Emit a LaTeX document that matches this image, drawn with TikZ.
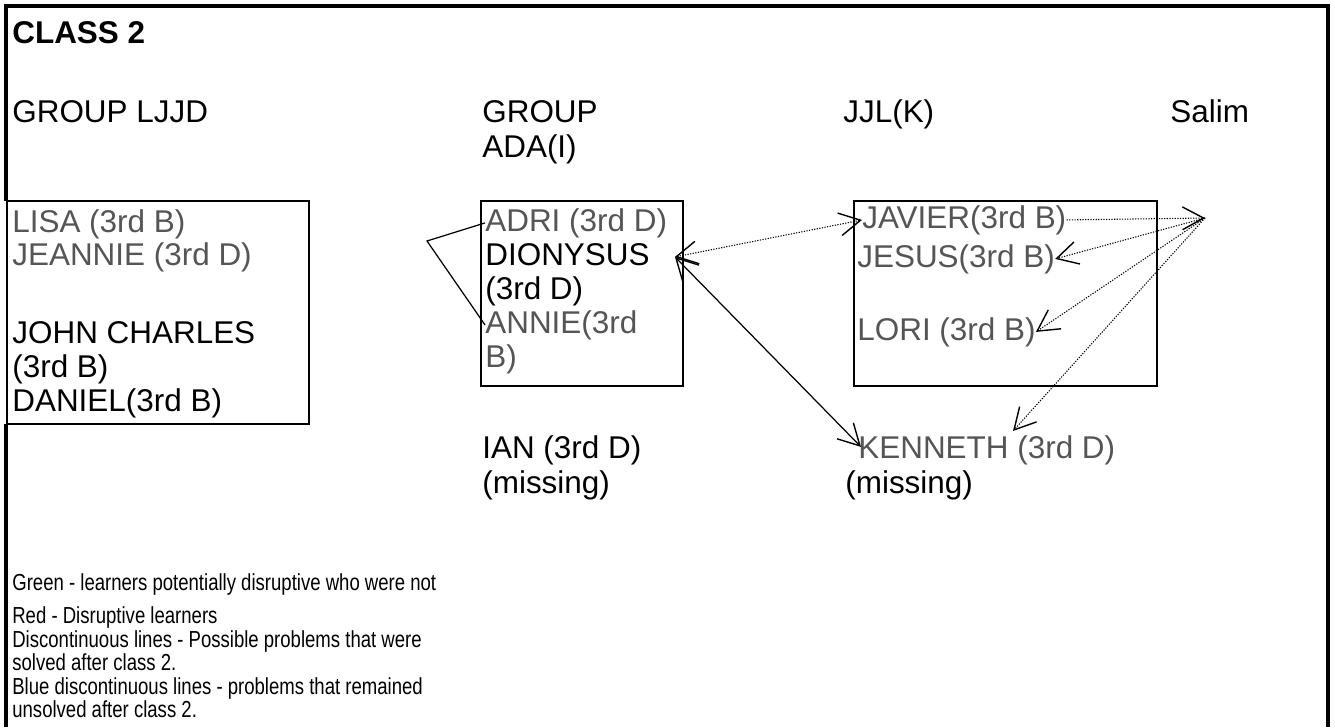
\documentclass[tikz,border=0pt]{standalone}
\usepackage{fontspec}
\setmainfont{Liberation Sans}
\newfontfamily\narrowfont[FakeStretch=0.80]{Liberation Sans}
\usetikzlibrary{arrows.meta,calc}
\definecolor{faded}{RGB}{85,85,85}

\begin{document}
\begin{tikzpicture}[x=0.02cm,y=-0.02cm,
  nm/.style={anchor=base west,inner sep=0pt,font=\fontsize{17.9}{20}\selectfont,text height=13pt,text depth=3.8pt},
  fd/.style={nm,text=faded},
  lg/.style={anchor=base west,inner sep=0pt,font=\narrowfont\fontsize{13.2}{15}\selectfont},
  grp/.style={draw,line width=0.7pt,fill=white},
  bar/.tip={Straight Barb[length=12pt,width=13pt,line width=0.8pt]},
  dots/.style={line width=0.6pt,dash pattern=on 0.7pt off 0.8pt}]
\useasboundingbox (0,0) rectangle (1335,727);
% frame
\draw[line width=2.6pt] (6,201) -- (6,6) -- (1328,6) -- (1328,727);
\draw[line width=2.6pt] (6,424) -- (6,727);
% group boxes
\draw[grp] (7,201) rectangle (309,424);
\draw[grp] (481,201) rectangle (683,386);
\draw[grp] (854,201) rectangle (1157,386);
% headings
\node[nm] (title) at (12,43) {\bfseries CLASS 2};
\node[nm] (hl) at (12,122) {GROUP LJJD};
\node[nm] (ha) at (482,122) {GROUP};
\node[nm] (ha2) at (482,157) {ADA(I)};
\node[nm] (hj) at (843,122) {JJL(K)};
\node[nm] (hs) at (1170,122) {Salim};
% group LJJD
\node[fd] (lisa) at (12,232) {LISA (3rd B)};
\node[fd] (jeannie) at (12,265) {JEANNIE (3rd D)};
\node[nm] (john) at (12,343) {JOHN CHARLES};
\node[nm] (john2) at (12,377) {(3rd B)};
\node[nm] (daniel) at (12,411) {DANIEL(3rd B)};
% group ADA(I)
\node[fd] (adri) at (485,231) {ADRI (3rd D)};
\node[nm] (dion) at (485,265) {DIONYSUS};
\node[nm] (dion2) at (485,299) {(3rd D)};
\node[fd] (annie) at (485,333) {ANNIE(3rd};
\node[fd] (annie2) at (485,367) {B)};
\node[nm] (ian) at (482,458) {IAN (3rd D)};
\node[nm] (ian2) at (482,493) {(missing)};
% JJL(K)
\node[fd] (javier) at (862,228) {JAVIER(3rd B)};
\node[fd] (jesus) at (857,267) {JESUS(3rd B)};
\node[fd] (lori) at (857,340) {LORI (3rd B)};
\node[fd] (kenneth) at (858,458) {KENNETH (3rd D)};
\node[nm] (ken2) at (845,493) {(missing)};
% key
\foreach \y/\t [count=\i] in {590/Green - learners potentially disruptive who were not,
  623/Red - Disruptive learners,647/Discontinuous lines - Possible problems that were,
  670/solved after class 2.,694/Blue discontinuous lines - problems that remained,
  717/unsolved after class 2.}
  \node[lg] (key\i) at (12,\y) {\t};
% links
\coordinate (fork) at (427,241);
\coordinate (salim) at (1205,218);
\draw[line width=0.7pt] (adri.west) -- (fork) -- (annie.west);
\draw[dots,bar-bar] ($(dion.east)+(25,0)$) -- (javier.west);
\draw[line width=0.7pt,bar-bar] ($(dion.east)+(25,0)$) -- ($(kenneth.west)+(3,-3)$);
\draw[dots,-bar] (javier.east) -- (salim);
\draw[dots,-bar] (salim) -- (jesus.east);
\draw[dots,-bar] (salim) -- (lori.east);
\draw[dots,-bar] (salim) -- ($(kenneth.base west)+(155,-27)$);
\end{tikzpicture}
\end{document}
